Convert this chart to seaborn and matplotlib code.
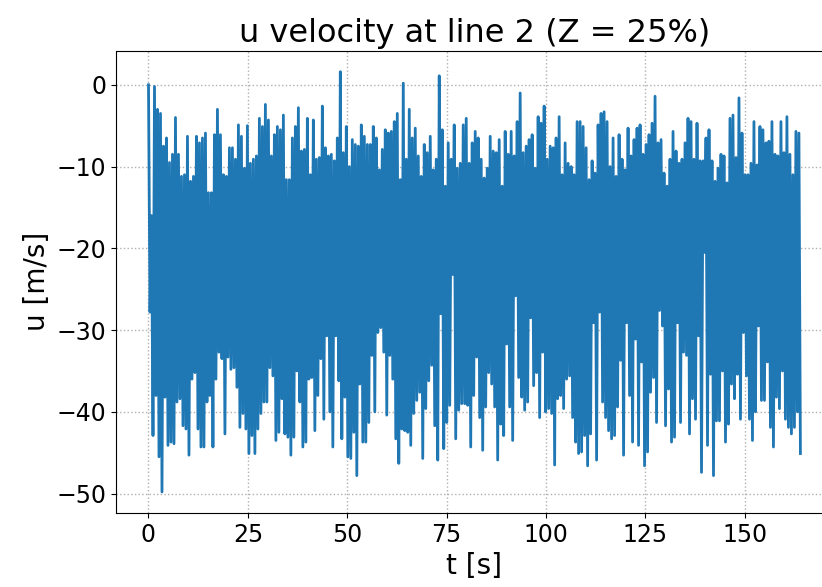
import numpy as np
import pandas as pd
from matplotlib import pyplot as plt
import seaborn as sns

# picos superiores e inferiores (m/s), en orden temporal
u_hi = [
    # 0 - 27 s
    0, -16, -0.2, -3, -3.5, -7.5, -6.5, -9.5, -8.5, -4, -8.5, -11.2, -11, -6.3, -11.8, -11.2, -6.3,
    -7.1, -6.5, -5.9, -13.2, -13.2, -6.1, -3, -6.1, -11, -11.2, -7.7, -7.7, -9.1, -4.9, -6.3, -10.2, -5,
    # 27 - 55 s
    -9.6, -9.1, -8.7, -4.1, -5.1, -2.4, -4.3, -8.7, -6.1, -5.1, -5.5, -3.7, -11.6, -11.6, -6.5, -5.1,
    -2.8, -8.1, -7.9, -4.1, -11, -4.3, -9.1, -8.9, -2.6, -7.7, -8.7, -8.5, -9.3, -6.5, 1.6, -8.3,
    -5.1, -10, -6.7, -7.3,
    # 55 - 82 s
    -7.5, -4.9, -6.3, -7.3, -7.3, -5.1, -6.5, -10.4, -7.9, -5.5, -5.9, -5.7, -4.5, -3.5, -11.6, 0.2,
    -9.1, -3, -6.5, -5.3, -8.7, -11.2, -7.3, -8.3, -6.3, -10.4, -9.1, 1.1, -5.5, -12.4, -7.1, -9.1,
    -4.9, -10.2, -9.6, -4.9, -4.1, -9.6,
    # 82 - 110 s
    -7.1, -5.7, -6.5, -9.1, -11.4, -10.2, -6.3, -8.1, -8.3, -6.7, -12.4, -5.7, -8.5, -5.7, -8.7, -4.5,
    -1, -8.3, -7.5, -6.7, -6.1, -10.2, -3.9, -4.7, -2.6, -9.1, -7.5, -7.7, -6.5, -3.9, -11, -7.1,
    -9.6, -10, -11, -4.5,
    # 110 - 138 s
    -4.5, -5.1, -7.7, -11.6, -9.3, -10.8, -4.9, -3.5, -3.3, -4.5, -10, -6.5, -11.2, -6.1, -9.1, -10.4,
    -5.3, -8.7, -6.7, -5.3, -4.9, -8.5, -7.3, -6.1, -4.7, -1.4, -7.1, -6.7, -10.8, -12.4, -9.1, -5.7,
    -8.1, -9.6, -9.1, -7.1, -4.1, -4.5,
    # 138 - 164 s
    -9.1, -4.7, -9.3, -9.3, -6.5, -5.5, -9.3, -11.8, -10.2, -8.5, -8.7, -12, -4.1, -3.7, -8.9, -1.6,
    -5.9, -11, -11, -9.6, -4.5, -9.8, -5.1, -5.5, -7.1, -6.9, -4.5, -8.5, -8.7, -4.5, -8.3, -3.9,
    -8.5, -11, -5.7, -5.9, -5.9,
]

u_lo = [
    # 0 - 27 s
    -27.8, -42.9, -38, -45.5, -49.8, -38.2, -44.1, -43.7, -43.9, -38.8, -38.4, -41.7, -42.1, -45.3,
    -36, -35.2, -42.1, -44.3, -44.3, -38.8, -38, -44.3, -36, -32.7, -33.5, -42.7, -33.3, -34.8, -34.6,
    -37, -41.9, -40.2, -42.1, -45.1, -42.9,
    # 27 - 55 s
    -45.1, -42.1, -40.2, -38.8, -38.8, -34.6, -35.6, -43.5, -42.5, -38.4, -42.7, -43.1, -45.3, -43.1,
    -35, -38.8, -44.3, -43.7, -36, -35.8, -42.3, -38, -33.5, -40.9, -30.7, -40, -44.3, -30.7, -36.2,
    -43.3, -38.2, -45.5, -45.7, -42.5, -47.8, -36.6, -43.7,
    # 55 - 82 s
    -43.7, -41.3, -33.1, -40, -30.3, -29.7, -32.7, -40.4, -33.1, -36, -43.3, -46.3, -42.1, -42.3,
    -42.5, -44.1, -40.2, -38.6, -37.6, -45.7, -39.6, -36.2, -34.3, -41.7, -45.9, -28, -44.5, -41.3,
    -39.2, -23.2, -43.3, -39.8, -39, -39, -39.2, -44.3,
    # 82 - 110 s
    -38, -33.3, -40.7, -44.7, -39.4, -35.2, -36.6, -39.4, -45.9, -41.5, -42.9, -31.7, -39.4, -43.5,
    -25.8, -35.8, -38.2, -39.8, -38.8, -28.5, -36.8, -35.2, -40.7, -32.7, -40, -39.6, -40.2, -46.5,
    -38.4, -38, -39.6, -36, -35.6, -40.7, -43.7, -45.1,
    # 110 - 138 s
    -44.9, -42.9, -46.6, -42.7, -29.1, -45.9, -27.8, -38.8, -40.7, -42.3, -43.3, -42.9, -39.4, -33.7,
    -45.3, -29.1, -38, -43.7, -31.1, -44.1, -33.9, -46.6, -44.9, -37.6, -35.8, -41.3, -27.6, -29.5,
    -41.7, -37.2, -43.7, -43.1, -29.1, -41.3, -32.7, -33.1, -42.7, -38.4,
    # 138 - 164 s
    -40.9, -30.7, -47.4, -20.5, -44.1, -35.4, -47.8, -41.1, -41.1, -35, -43.7, -41.5, -36.6, -38.4,
    -35.4, -40.9, -30.3, -35.6, -40.9, -43.5, -40, -29.5, -38.6, -38.6, -33.9, -41.9, -44.3, -38.2,
    -39.6, -35, -40.9, -41.9, -42.7, -41.9, -40, -45.1,
]

t_end = 164.0

# intercalamos picos altos y bajos para reconstruir la senal
n = min(len(u_hi), len(u_lo))
u = np.empty(2 * n)
u[0::2] = u_hi[:n]
u[1::2] = u_lo[:n]
t = np.linspace(0, t_end, 2 * n)
df = pd.DataFrame({'t': t, 'u': u})

fig, ax = plt.subplots(figsize=(8.22, 5.87), dpi=100)
sns.lineplot(data=df, x='t', y='u', ax=ax, color='#1f77b4', linewidth=2, sort=False)
ax.grid(True, linestyle=':', color='#b0b0b0', linewidth=1)
ax.set_title('u velocity at line 2 (Z = 25%)', fontsize=23)
ax.set_xlabel('t [s]', fontsize=20)
ax.set_ylabel('u [m/s]', fontsize=20)
ax.tick_params(labelsize=17)
ax.set_xticks([0, 25, 50, 75, 100, 125, 150])
ax.set_yticks([0, -10, -20, -30, -40, -50])
# la figura original esta recortada por la derecha
plt.subplots_adjust(left=0.141, right=1.0134, top=0.9136, bottom=0.1261)
plt.savefig('out.png')
